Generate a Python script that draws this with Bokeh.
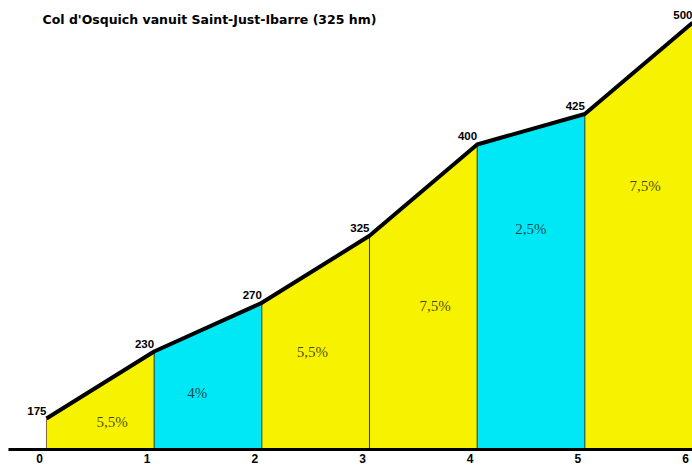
from bokeh.plotting import figure
from bokeh.models import Range1d, Label
from bokeh.core.properties import value
from bokeh.embed import file_html
from bokeh.resources import INLINE

# Data
km = [0, 1, 2, 3, 4, 5, 6]
elevation = [175, 230, 270, 325, 400, 425, 500]
gradients = ["5,5%", "4%", "5,5%", "7,5%", "2,5%", "7,5%"]
tick_labels = ["0", "1", "2", "3", "4", "5", "6"]
title_text = "Col d'Osquich vanuit Saint-Just-Ibarre (325 hm)"

# Styling / layout
base = 149.5
seg_colors = ["#f7f300", "#00e8f6", "#f7f300", "#f7f300", "#00e8f6", "#f7f300"]
grad_label_x = [0.61, 1.40, 2.47, 3.61, 4.50, 5.56]
grad_label_y = [172.5, 196.3, 230, 267, 331, 366]

p = figure(width=692, height=466, output_backend="svg", toolbar_location=None,
           x_range=Range1d(-0.427, 6.0), y_range=Range1d(135.6, 518.2),
           min_border=0, min_border_left=0, min_border_right=0,
           min_border_top=0, min_border_bottom=0)
p.axis.visible = False
p.grid.visible = False
p.outline_line_color = None
p.background_fill_color = "white"

xs, ys = [], []
for i in range(len(km) - 1):
    xs.append([km[i], km[i], km[i + 1], km[i + 1]])
    ys.append([base, elevation[i], elevation[i + 1], base])
p.patches(xs=xs, ys=ys, fill_color=seg_colors, line_color=None)

# vertical separators
p.segment(x0=km[1:-1], y0=[base] * 5, x1=km[1:-1], y1=elevation[1:-1],
          line_color="#1f3a2a", line_width=1)
p.segment(x0=[km[0]], y0=[base], x1=[km[0]], y1=[elevation[0]],
          line_color="#8a6a30", line_width=1)

# baseline
p.segment(x0=[-0.353], y0=[base], x1=[km[-1]], y1=[base],
          line_color="black", line_width=3)

# profile line
p.line(km, elevation, line_color="black", line_width=4, line_join="round")

# elevation labels
p.text(x=km, y=elevation, text=[str(e) for e in elevation],
       text_font=value("Liberation Sans"), text_font_style="bold",
       text_font_size="11.5px", text_color="black",
       text_align="right", text_baseline="bottom", y_offset=-4)

# gradient labels
p.text(x=grad_label_x, y=grad_label_y, text=gradients,
       text_font=value("Liberation Serif"), text_font_size="15px",
       text_color="black", text_alpha=0.72,
       text_align="center", text_baseline="middle")

# x tick labels
p.text(x=km, y=[base] * len(km), text=tick_labels,
       text_font=value("Liberation Sans"), text_font_style="bold",
       text_font_size="12px", text_color="black",
       text_align="center", text_baseline="middle", x_offset=-7, y_offset=9)

p.add_layout(Label(x=-0.037, y=503.0, text=title_text,
                   text_font="DejaVu Sans", text_font_style="bold",
                   text_font_size="12.5px", text_color="black",
                   text_baseline="middle", text_align="left"))

open("out.html", "w").write(file_html(p, INLINE))
